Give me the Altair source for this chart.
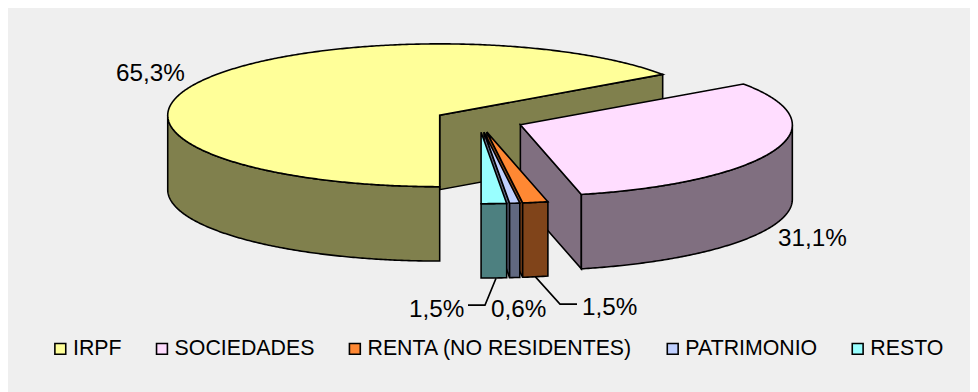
import math
import altair as alt

names = ["IRPF", "SOCIEDADES", "RENTA (NO RESIDENTES)", "PATRIMONIO", "RESTO"]
shares = [65.3, 31.1, 1.5, 0.6, 1.5]
share_labels = ["65,3%", "31,1%", "1,5%", "0,6%", "1,5%"]
top_colors = ["#FFFF99", "#FFDDFF", "#FF8833", "#C0D0FF", "#99FFFF"]
side_colors = ["#80804D", "#806F80", "#80441A", "#606880", "#4D8080"]

# pie geometry in picture pixels
CX, CY, RX, RY, DEPTH, EXPLODE = 479, 120, 272, 72, 75, 0.163
START = 180.0
FONT = "Liberation Sans"
# the 970-wide canvas plus page margins (986) is photographed at 978
SX, SY = 986 / 978, 1.0
PROJ = alt.Projection(type="identity", scale=1, translate=[-8, -8])


def page(p):
    return [p[0] * SX, p[1] * SY]


def pt(c, ang, dy=0):
    r = math.radians(ang)
    return [c[0] + RX * math.sin(r), c[1] - RY * math.cos(r) + dy]


def arc(c, a, b, dy=0):
    n = max(2, int(abs(b - a) * 2) + 1)
    return [pt(c, a + (b - a) * i / (n - 1), dy) for i in range(n)]


def feature(points, name, shade):
    pts = [page(p) for p in points]
    ring = pts + [pts[0]]
    return {
        "type": "Feature",
        "properties": {"name": name, "shade": shade},
        "geometry": {"type": "Polygon", "coordinates": [ring]},
    }


layers = []
cum = START
for name, share, top, side in zip(names, shares, top_colors, side_colors):
    a0, a1 = cum, cum + share * 3.6
    cum = a1
    if a0 >= 360:
        a0, a1 = a0 - 360, a1 - 360
    mid = math.radians((a0 + a1) / 2)
    c = [CX + EXPLODE * RX * math.sin(mid), CY - EXPLODE * RY * math.cos(mid)]

    sides = []
    # cut faces that turn towards the viewer
    if math.sin(math.radians(a0)) < -1e-9:
        p = pt(c, a0)
        sides.append(feature([c, p, [p[0], p[1] + DEPTH], [c[0], c[1] + DEPTH]], name, side))
    if math.sin(math.radians(a1)) > 1e-9:
        p = pt(c, a1)
        sides.append(feature([c, p, [p[0], p[1] + DEPTH], [c[0], c[1] + DEPTH]], name, side))
    # outer rim, front half only
    r0, r1 = max(a0, 90), min(a1, 270)
    if r1 > r0:
        sides.append(feature(arc(c, r0, r1) + arc(c, r1, r0, DEPTH), name, side))

    layers.append(
        alt.Chart(alt.Data(values=sides))
        .mark_geoshape(stroke="black", strokeWidth=1.6, strokeJoin="miter")
        .encode(color=alt.Color("properties.shade:N", scale=None))
        .project(**PROJ.to_dict())
    )
    layers.append(
        alt.Chart(alt.Data(values=[feature([c] + arc(c, a0, a1), name, top)]))
        .mark_geoshape(stroke="black", strokeWidth=1.6, strokeJoin="miter")
        .encode(
            color=alt.Color(
                "properties.name:N",
                scale=alt.Scale(domain=names, range=top_colors),
                legend=alt.Legend(
                    title=None,
                    orient="none",
                    direction="horizontal",
                    columns=5,
                    legendX=42,
                    legendY=331,
                    symbolType="square",
                    symbolSize=120,
                    symbolStrokeColor="black",
                    symbolStrokeWidth=1.6,
                    symbolOpacity=1,
                    labelFont=FONT,
                    labelFontSize=21.5,
                    labelColor="black",
                    labelOffset=2,
                    columnPadding=29.5,
                    labelLimit=400,
                ),
            )
        )
        .project(**PROJ.to_dict())
    )

# leader lines of the small slices
leaders = [
    [[496, 279], [485, 306], [468, 306]],
    [[535, 277], [560, 305], [577, 305]],
]
leader_feats = [
    {
        "type": "Feature",
        "properties": {},
        "geometry": {"type": "LineString", "coordinates": [page(p) for p in l]},
    }
    for l in leaders
]
layers.append(
    alt.Chart(alt.Data(values=leader_feats))
    .mark_geoshape(filled=False, stroke="black", strokeWidth=1.6)
    .project(**PROJ.to_dict())
)

label_x = [116, 778, 582, 491, 409]
label_y = [80, 246, 316, 318, 318]
label_rows = [
    {"t": t, "x": x * SX - 8, "y": y * SY - 8} for t, x, y in zip(share_labels, label_x, label_y)
]
layers.append(
    alt.Chart(alt.Data(values=label_rows))
    .mark_text(font=FONT, fontSize=24.5, align="left", baseline="alphabetic", color="black")
    .encode(
        x=alt.X("x:Q", scale=None, axis=None),
        y=alt.Y("y:Q", scale=None, axis=None),
        text="t:N",
    )
)

chart = (
    alt.layer(*layers)
    .properties(width=970, height=384, padding=0, background="#EFEFEF", autosize="none")
    .configure_view(stroke=None)
)
chart.save("out.html", embed_options={"renderer": "svg", "actions": False})
